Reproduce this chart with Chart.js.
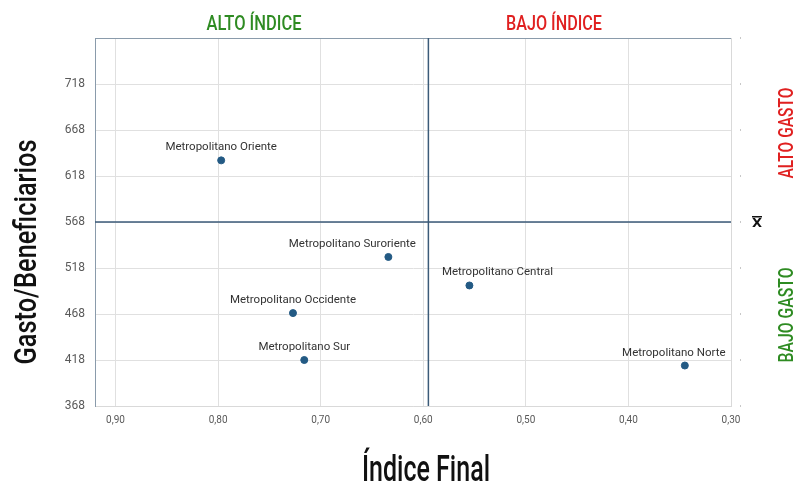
<!DOCTYPE html>
<html>
<head>
<meta charset="utf-8">
<script src="https://cdn.jsdelivr.net/npm/chart.js@4"></script>
<style>
  html, body { margin: 0; padding: 0; background: #fff; }
  #wrap { width: 796px; height: 485px; }
</style>
</head>
<body>
<div id="wrap"><canvas id="myChart" width="796" height="485"></canvas></div>
<script>
// Data
const names = ['Metropolitano Oriente', 'Metropolitano Suroriente', 'Metropolitano Occidente',
  'Metropolitano Sur', 'Metropolitano Central', 'Metropolitano Norte'];
const indice = [0.797, 0.634, 0.727, 0.716, 0.555, 0.345];
const gasto = [635, 530, 469, 418, 499, 412];
const meanIndice = 0.595;
const meanGasto = 568;
const xTicks = [0.30, 0.40, 0.50, 0.60, 0.70, 0.80, 0.90];
const yTicks = [368, 418, 468, 518, 568, 618, 668, 718];
const xRange = [0.30, 0.92];
const yRange = [368, 768];

// label nudges so names sit like in the original
const labelDx = [0, -36, 0, 0, 28, -11];

const fitText = (ctx, text, x, y, width, font, color, rot) => {
  ctx.save();
  ctx.font = font;
  ctx.fillStyle = color;
  ctx.textAlign = 'center';
  ctx.textBaseline = 'alphabetic';
  ctx.translate(x, y);
  if (rot) ctx.rotate(rot);
  const w = ctx.measureText(text).width;
  ctx.scale(width / w, 1);
  ctx.fillText(text, 0, 0);
  ctx.restore();
};

const decorations = {
  id: 'decorations',
  beforeDatasetsDraw(chart) {
    const { ctx, chartArea: a, scales } = chart;
    ctx.save();
    // frame: top in blue-grey, right light grey
    ctx.lineWidth = 1;
    ctx.strokeStyle = '#d9d9d9';
    ctx.beginPath();
    ctx.moveTo(a.right + 0.5, a.top);
    ctx.lineTo(a.right + 0.5, a.bottom);
    ctx.stroke();
    ctx.strokeStyle = '#8a9bab';
    ctx.beginPath();
    ctx.moveTo(a.left, a.top + 0.5);
    ctx.lineTo(a.right, a.top + 0.5);
    ctx.stroke();
    // little marks on the right side
    ctx.fillStyle = '#c8c8c8';
    yTicks.concat([yRange[1]]).forEach(v => {
      const py = scales.y.getPixelForValue(v);
      ctx.fillRect(a.right + 9, py - 1, 1, 2);
    });
    ctx.restore();
  },
  afterDatasetsDraw(chart) {
    const { ctx, scales } = chart;
    ctx.save();
    ctx.font = '11.5px Roboto, "Noto Sans", sans-serif';
    ctx.fillStyle = '#333';
    ctx.textAlign = 'center';
    ctx.textBaseline = 'alphabetic';
    names.forEach((n, i) => {
      const px = scales.x.getPixelForValue(indice[i]);
      const py = scales.y.getPixelForValue(gasto[i]);
      ctx.fillText(n, px + labelDx[i], py - 10);
    });
    ctx.restore();
  },
  afterDraw(chart) {
    const { ctx, scales } = chart;
    const cond = '500 21px Roboto, sans-serif';
    fitText(ctx, 'ALTO ÍNDICE', 254, 30, 95, cond, '#2e8b22');
    fitText(ctx, 'BAJO ÍNDICE', 554, 30, 96, cond, '#e02020');
    fitText(ctx, 'Índice Final', 426, 481, 128, '500 36px Roboto, sans-serif', '#111');
    fitText(ctx, 'Gasto/Beneficiarios', 36, 252, 225, '500 31px Roboto, sans-serif', '#111', -Math.PI / 2);
    fitText(ctx, 'ALTO GASTO', 793, 133, 91, cond, '#e02020', -Math.PI / 2);
    fitText(ctx, 'BAJO GASTO', 793, 315, 95, cond, '#2e8b22', -Math.PI / 2);
    // mean marker: X with a bar
    const my = scales.y.getPixelForValue(meanGasto);
    ctx.save();
    ctx.font = 'bold 13px "DejaVu Sans", sans-serif';
    ctx.fillStyle = '#111';
    ctx.textAlign = 'center';
    ctx.textBaseline = 'middle';
    ctx.fillText('X', 757, my + 2);
    ctx.fillRect(752, my - 6, 10, 1.5);
    ctx.restore();
  }
};

var ctx = document.getElementById('myChart').getContext('2d');

var myChart = new Chart(ctx, {
  type: 'scatter',
  data: {
    datasets: [
      {
        label: 'Media índice',
        type: 'line',
        data: [{ x: meanIndice, y: yRange[0] }, { x: meanIndice, y: yRange[1] }],
        borderColor: '#3b5a78',
        borderWidth: 1.5,
        pointRadius: 0,
        order: 2
      },
      {
        label: 'Media gasto',
        type: 'line',
        data: [{ x: xRange[0], y: meanGasto }, { x: xRange[1], y: meanGasto }],
        borderColor: '#3b5a78',
        borderWidth: 1.5,
        pointRadius: 0,
        order: 2
      },
      {
        label: 'Zonas',
        data: indice.map((v, i) => ({ x: v, y: gasto[i] })),
        backgroundColor: '#235a84',
        borderColor: '#235a84',
        pointRadius: 3.5,
        order: 1
      }
    ]
  },
  options: {
    responsive: false,
    animation: false,
    layout: { padding: { top: 38, right: 65, left: 0, bottom: 0 } },
    plugins: {
      legend: { display: false },
      tooltip: { enabled: false }
    },
    scales: {
      x: {
        type: 'linear',
        reverse: true,
        min: xRange[0],
        max: xRange[1],
        afterFit: s => { s.height = 79; },
        afterBuildTicks: s => { s.ticks = xTicks.map(v => ({ value: v })); },
        grid: { color: '#e0e0e0', drawTicks: false },
        border: { color: '#d9d9d9' },
        ticks: {
          padding: 8,
          color: '#595959',
          font: { family: 'Roboto, sans-serif', size: 10 },
          callback: v => v.toFixed(2).replace('.', ',')
        }
      },
      y: {
        type: 'linear',
        min: yRange[0],
        max: yRange[1],
        afterFit: s => { s.width = 95; },
        afterBuildTicks: s => { s.ticks = yTicks.map(v => ({ value: v })); },
        grid: { color: '#e0e0e0', drawTicks: false },
        border: { color: '#8a9bab' },
        ticks: {
          padding: 10,
          color: '#595959',
          font: { family: 'Roboto, sans-serif', size: 12 }
        }
      }
    }
  },
  plugins: [decorations]
});
</script>
</body>
</html>
